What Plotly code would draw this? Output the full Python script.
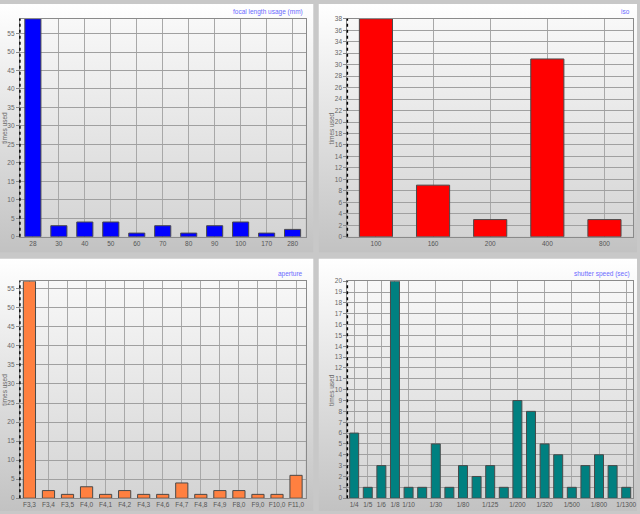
import base64
import plotly.graph_objects as go

W, H = 640, 514

# ---------------- data ----------------
focal_labels = ["28", "30", "40", "50", "60", "70", "80", "90", "100", "170", "280"]
focal_values = [59, 3, 4, 4, 1, 3, 1, 3, 4, 1, 2]

iso_labels = ["100", "160", "200", "400", "800"]
iso_values = [38, 9, 3, 31, 3]

aperture_labels = ["F3,3", "F3,4", "F3,5", "F4,0", "F4,1", "F4,2", "F4,3", "F4,6",
                   "F4,7", "F4,8", "F4,9", "F8,0", "F9,0", "F10,0", "F11,0"]
aperture_values = [57, 2, 1, 3, 1, 2, 1, 1, 4, 1, 2, 2, 1, 1, 6]

shutter_labels = ["1/4", "1/5", "1/6", "1/8", "1/10", "1/15", "1/30", "1/40", "1/80",
                  "1/100", "1/125", "1/160", "1/200", "1/250", "1/320", "1/400",
                  "1/500", "1/640", "1/800", "1/1000", "1/1300"]
shutter_values = [6, 1, 3, 20, 1, 1, 5, 1, 3, 2, 3, 1, 9, 8, 5, 4, 1, 3, 4, 3, 1]
shutter_shown_ticks = ["1/4", "1/5", "1/6", "1/8", "1/10", "1/30", "1/80", "1/125",
                       "1/200", "1/320", "1/500", "1/800", "1/1300"]

titles = ["focal length usage (mm)", "iso", "aperture", "shutter speed (sec)"]
y_title = "times used"

# ---------------- style ----------------
FONT = "Liberation Sans"
FS = 6.5
panels = [
    dict(labels=focal_labels, values=focal_values, color="#0000ff", dtick=5, bw=0.62,
         plot=(20, 15, 307, 236), panel=(0, 0, 315, 252), ticks=None, ytx=5),
    dict(labels=iso_labels, values=iso_values, color="#ff0000", dtick=2, bw=0.58,
         plot=(349, 15, 636, 236), panel=(320, 0, 640, 252), ticks=None, ytx=333),
    dict(labels=aperture_labels, values=aperture_values, color="#ff8040", dtick=5, bw=0.64,
         plot=(20, 281, 307, 501), panel=(0, 258, 315, 514), ticks=None, ytx=5),
    dict(labels=shutter_labels, values=shutter_values, color="#008080", dtick=1, bw=0.66,
         plot=(349, 281, 636, 501), panel=(320, 258, 640, 514), ticks=shutter_shown_ticks,
         ytx=333),
]


def grad(top, bottom):
    svg = ('<svg xmlns="http://www.w3.org/2000/svg" width="10" height="100" '
           'viewBox="0 0 10 100" preserveAspectRatio="none"><defs>'
           '<linearGradient id="g" x1="0" y1="0" x2="0" y2="1">'
           f'<stop offset="0" stop-color="{top}"/><stop offset="1" stop-color="{bottom}"/>'
           '</linearGradient></defs><rect width="10" height="100" fill="url(#g)"/></svg>')
    return "data:image/svg+xml;base64," + base64.b64encode(svg.encode()).decode()


def img(box, src):
    x0, y0, x1, y1 = box
    return dict(source=src, xref="paper", yref="paper", x=x0 / W, y=1 - y0 / H,
                sizex=(x1 - x0) / W, sizey=(y1 - y0) / H, xanchor="left", yanchor="top",
                sizing="stretch", layer="below")


fig = go.Figure()
layout = dict(width=W, height=H, margin=dict(l=0, r=0, t=0, b=0), showlegend=False,
              paper_bgcolor="#c8c8c8", plot_bgcolor="rgba(0,0,0,0)",
              font=dict(family=FONT, size=FS, color="#555555"))
images, shapes, annotations = [], [], []

panel_src = grad("#ffffff", "#c2c2c2")
plot_src = grad("#f8f8f8", "#d4d4d4")

for i, p in enumerate(panels, start=1):
    sfx = "" if i == 1 else str(i)
    x0, y0, x1, y1 = p["plot"]
    images.append(img(p["panel"], panel_src))
    images.append(img(p["plot"], plot_src))

    fig.add_trace(go.Bar(
        x=p["labels"], y=p["values"], xaxis="x" + sfx, yaxis="y" + sfx,
        width=p["bw"], marker=dict(color=p["color"], line=dict(color="#4a4a4a", width=1)),
        hoverinfo="x+y"))

    xa = dict(domain=[x0 / W, x1 / W], anchor="y" + sfx, type="category",
              categoryorder="array", categoryarray=p["labels"],
              showgrid=True, gridcolor="#a8a8a8", gridwidth=1,
              showline=True, linecolor="#8a8a8a", linewidth=1, mirror=True,
              ticks="", tickangle=0,
              tickfont=dict(family=FONT, size=FS, color="#555555"),
              range=[-0.5, len(p["labels"]) - 0.5], fixedrange=True)
    if p["ticks"] is not None:
        xa.update(tickmode="array", tickvals=p["ticks"], ticktext=p["ticks"])
    ya = dict(domain=[1 - y1 / H, 1 - y0 / H], anchor="x" + sfx,
              range=[0, max(p["values"])], dtick=p["dtick"], tick0=0,
              showgrid=True, gridcolor="#a0a0a0", gridwidth=1, zeroline=False,
              showline=True, linecolor="#8a8a8a", linewidth=1, mirror=True,
              ticks="outside", ticklen=3, tickcolor="#8a8a8a",
              tickfont=dict(family=FONT, size=FS, color="#666666"), fixedrange=True)
    layout["xaxis" + sfx] = xa
    layout["yaxis" + sfx] = ya

    # dotted black y axis line
    shapes.append(dict(type="line", xref="x" + sfx + " domain", yref="y" + sfx + " domain",
                       x0=0, x1=0, y0=0, y1=1, line=dict(color="#000000", width=1.5, dash="dot"),
                       layer="above"))

    annotations.append(dict(text=titles[i - 1], xref="paper", yref="paper",
                            x=(x1 - 1) / W, y=1 - (y0 - 7) / H, xanchor="right",
                            yanchor="middle", showarrow=False,
                            font=dict(family=FONT, size=FS, color="#6a6aff")))
    annotations.append(dict(text=y_title, xref="paper", yref="paper",
                            x=p["ytx"] / W, y=1 - ((y0 + y1) / 2) / H,
                            xanchor="center", yanchor="middle", textangle=-90,
                            showarrow=False, font=dict(family=FONT, size=FS, color="#666666")))

layout.update(images=images, shapes=shapes, annotations=annotations)
fig.update_layout(**layout)
fig.write_html("out.html")
